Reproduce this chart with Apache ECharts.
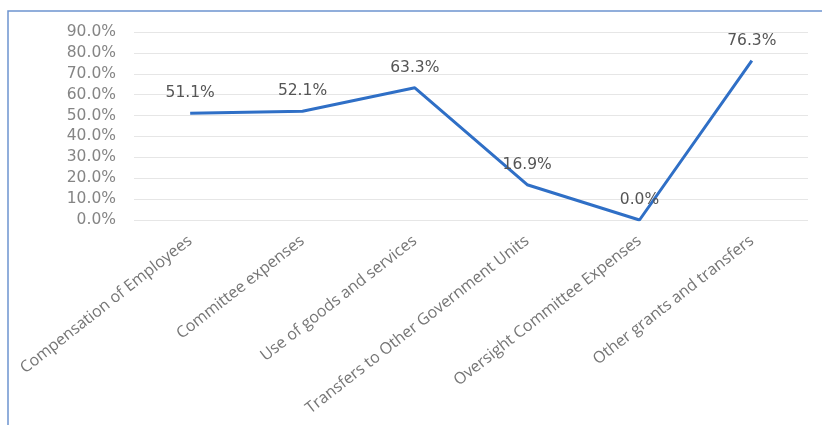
<!DOCTYPE html>
<html><head><meta charset="utf-8">
<script src="https://cdn.jsdelivr.net/npm/echarts@6/dist/echarts.min.js"></script>
<style>html,body{margin:0;padding:0;background:#fff}#c{width:822px;height:425px}</style>
</head><body><div id="c"></div>
<script>
const categories = ["Compensation of Employees","Committee expenses","Use of goods and services","Transfers to Other Government Units","Oversight Committee Expenses","Other grants and transfers"];
const values = [51.1, 52.1, 63.3, 16.9, 0.0, 76.3];
const yTicks = [0,10,20,30,40,50,60,70,80,90];

const chart = echarts.init(document.getElementById('c'));
chart.setOption({
  animation:false,
  graphic:[{type:'rect',shape:{x:8,y:11,width:840,height:440},style:{fill:'none',stroke:'#6d94cf',lineWidth:1.5},silent:true}],
  grid:{left:134,right:14,top:32,bottom:205},
  xAxis:{type:'category',data:categories,boundaryGap:true,
    axisLine:{show:false},axisTick:{show:false},
    axisLabel:{rotate:38,margin:19,color:'#767676',fontFamily:'Open Sans',fontSize:16,interval:0}},
  yAxis:{type:'value',min:yTicks[0],max:yTicks[yTicks.length-1],interval:10,
    axisLine:{show:false},axisTick:{show:false},
    splitLine:{lineStyle:{color:'#e6e6e6',width:1}},
    axisLabel:{margin:18,color:'#858585',fontFamily:'DejaVu Sans',fontSize:15.5,formatter:v=>v.toFixed(1)+'%'}},
  series:[{type:'line',data:values,symbol:'circle',symbolSize:2,showSymbol:true,
    itemStyle:{color:'rgba(0,0,0,0)',borderWidth:0},
    lineStyle:{color:'#2f6fc6',width:3},
    label:{show:true,position:'top',distance:11,color:'#555',fontFamily:'DejaVu Sans',fontSize:15.5,formatter:p=>p.value.toFixed(1)+'%'}}]
});
</script></body></html>
